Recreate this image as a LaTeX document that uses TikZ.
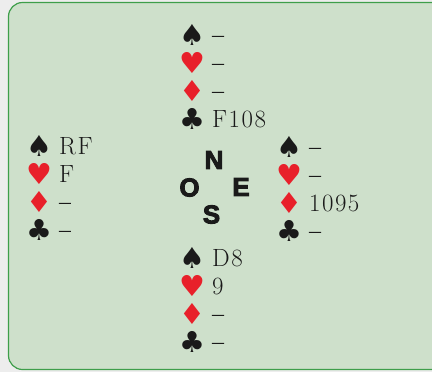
\documentclass[tikz,border=0pt]{standalone}
\usepackage{fontspec}
\setmainfont{Latin Modern Roman}[LetterSpace=6]
\newfontfamily\suitfont{DejaVu Sans}
\newfontfamily\compfont{Liberation Sans Bold}[FakeBold=3.5]
\newfontfamily\dashfont{Latin Modern Roman}[FakeBold=2]
\definecolor{bgray}{HTML}{EDEDED}
\definecolor{boxfill}{HTML}{CEE0CB}
\definecolor{boxline}{HTML}{3E9E4A}
\definecolor{suitred}{HTML}{E8202A}
\definecolor{ink}{HTML}{1A1A1A}
\newcommand\nd{{\dashfont –}}
\tikzset{
  suit/.style={inner sep=0pt, font=\suitfont\fontsize{29}{29}\selectfont, text=ink},
  redsuit/.style={suit, text=suitred},
  cards/.style={anchor=base west, inner sep=0pt, font=\fontsize{25}{25}\selectfont, text=ink},
  compass/.style={inner sep=0pt, font=\compfont\fontsize{26}{26}\selectfont, text=ink},
}
\newcommand\handrows[8]{%
  % #1 name, #2 suit x, #3 text x, #4 first row y, #5-#8 holdings
  \node[suit]    (#1s) at (#2,#4)    {♠};
  \node[redsuit] (#1h) at (#2,#4+28) {♥};
  \node[redsuit] (#1d) at (#2,#4+56) {♦};
  \node[suit]    (#1c) at (#2,#4+84) {♣};
  \node[cards] (#1st) at (#3,#4+8)    {#5};
  \node[cards] (#1ht) at (#3,#4+36)   {#6};
  \node[cards] (#1dt) at (#3,#4+64)   {#7};
  \node[cards] (#1ct) at (#3,#4+92)   {#8};
}
\begin{document}
\begin{tikzpicture}[x=1bp,y=-1bp]
\useasboundingbox (0,0) rectangle (432,372);
\fill[bgray] (0,0) rectangle (432,372);
\begin{scope}
\clip (0,0) rectangle (432,372);
\draw[boxline, fill=boxfill, line width=1.2bp, rounded corners=14bp] (8.5,2.5) rectangle (446,369.5);
\end{scope}
\handrows{n}{192}{212}{35}{\nd}{\nd}{\nd}{F108}
\handrows{w}{39}{59}{146}{RF}{F}{\nd}{\nd}
\handrows{e}{289}{309}{147}{\nd}{\nd}{1095}{\nd}
\handrows{s}{192}{212}{258}{D8}{9}{\nd}{\nd}
\node[compass] (cn) at (214,160) {N};
\node[compass] (co) at (189.5,187.5) {O};
\node[compass] (ce) at (241,187) {E};
\node[compass] (cs) at (211.5,214.5) {S};
\end{tikzpicture}
\end{document}
